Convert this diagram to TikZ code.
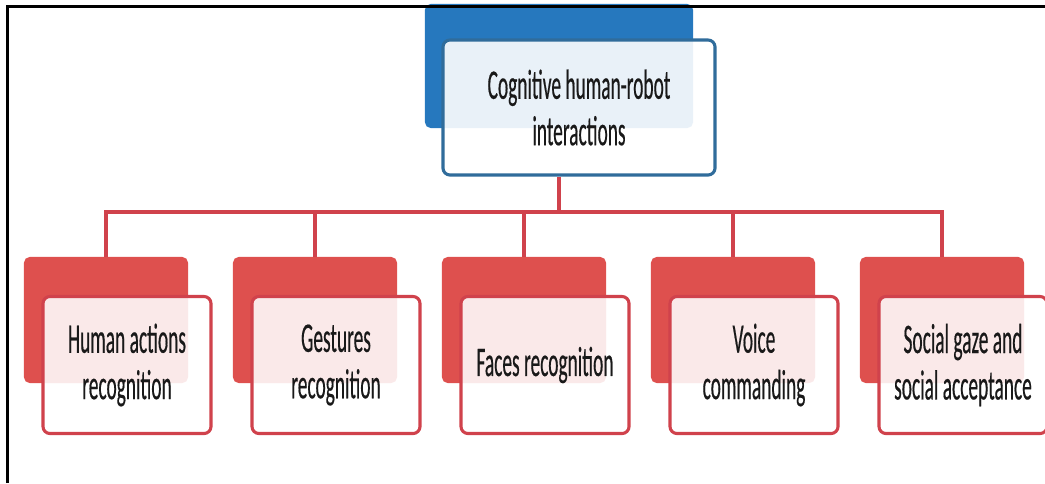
\documentclass[tikz,border=0pt]{standalone}
\usepackage{fontspec}
\setmainfont[FakeStretch=0.46,FakeBold=0.35]{Carlito}
\usepackage{tikz}
\usetikzlibrary{calc}

\definecolor{hrired}{RGB}{222,80,78}
\definecolor{hriedge}{RGB}{208,66,76}
\definecolor{hriblue}{RGB}{38,120,190}
\definecolor{hriblueedge}{RGB}{48,108,155}

\begin{document}
\begin{tikzpicture}[x=0.025cm, y=-0.025cm,
		backbox/.style={rectangle, rounded corners=4pt, fill=hrired,
		minimum width=4.1cm, minimum height=3.15cm},
		frontbox/.style={rectangle, rounded corners=5pt, draw=hriedge, line width=2.2pt,
		fill=white, fill opacity=0.88, text opacity=1, text=black!90,
		minimum width=4.2cm, minimum height=3.425cm, align=center,
		font=\fontsize{30pt}{33pt}\selectfont},
		topback/.style={backbox, fill=hriblue, minimum width=6.7cm, minimum height=3.1cm},
		topfront/.style={frontbox, draw=hriblueedge, fill opacity=0.9,
		minimum width=6.8cm, minimum height=3.375cm},
		branch/.style={draw=hriedge, line width=2.6pt}
		]
		\useasboundingbox (0,0) rectangle (1045,483);

		% top of the tree
		\node[topback](Cback) at (559,66){};
		\node[topfront](C) at ($(Cback)+(20,41.5)$){Cognitive human-robot\\interactions};

		% second row
		\node[backbox](Hback) at (106,320){};
		\node[backbox](Gback) at (315,320){};
		\node[backbox](Fback) at (524,320){};
		\node[backbox](Vback) at (733,320){};
		\node[backbox](Sback) at (942,320){};
		\node[frontbox](H) at ($(Hback)+(21,45)$){Human actions\\recognition};
		\node[frontbox](G) at ($(Gback)+(21,45)$){Gestures\\recognition};
		\node[frontbox](F) at ($(Fback)+(21,45)$){Faces recognition};
		\node[frontbox](V) at ($(Vback)+(21,45)$){Voice\\commanding};
		\node[frontbox](S) at ($(Sback)+(21,45)$){Social gaze and\\social acceptance};

		\coordinate (bus) at (559,212);
		\draw[branch] (C.south -| Cback.south) -- (bus);
		\draw[branch] (bus) -| (Hback.north);
		\draw[branch] (bus) -| (Gback.north);
		\draw[branch] (bus) -| (Fback.north);
		\draw[branch] (bus) -| (Vback.north);
		\draw[branch] (bus) -| (Sback.north);

		% frame
		\draw[line width=2pt] (7.5,483) -- (7.5,6.5) -- (1045,6.5);
	\end{tikzpicture}
\end{document}
